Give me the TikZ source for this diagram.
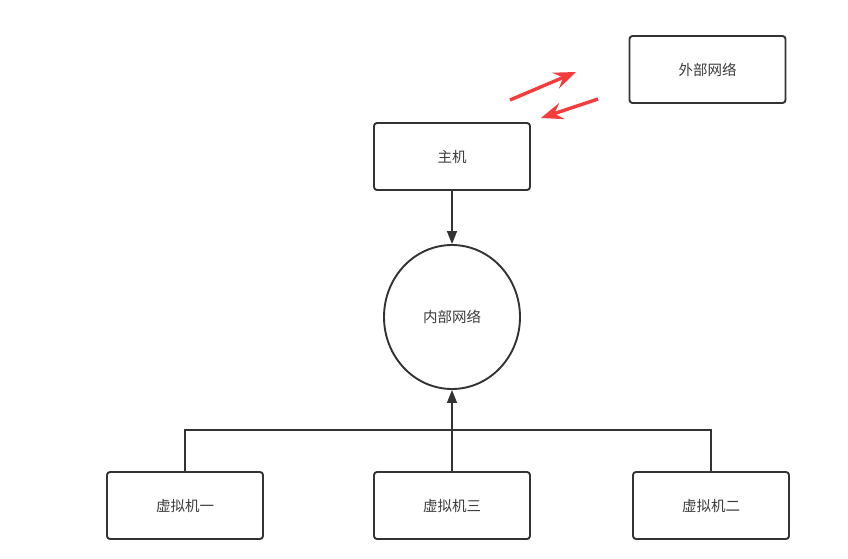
\documentclass[tikz,border=0pt]{standalone}
\usepackage{fontspec}
\setmainfont{Noto Sans CJK SC}
\usetikzlibrary{arrows.meta,shapes.geometric}
\definecolor{lineclr}{RGB}{51,51,51}
\definecolor{txtclr}{RGB}{60,60,60}
\definecolor{hintclr}{RGB}{245,60,60}

\begin{document}
\begin{tikzpicture}[x=1pt,y=-1pt,
    box/.style={rectangle, rounded corners=3pt, draw=lineclr, line width=1.9pt,
          fill=white, minimum width=156pt, minimum height=67pt,
          font=\fontsize{14.5pt}{17pt}\selectfont\color{txtclr}},
    link/.style={-{Triangle[length=13pt,width=10pt]}, line width=1.6pt, lineclr},
    hint/.style={-{Stealth[length=22pt,width=17pt,inset=8pt]}, line width=3.4pt, hintclr}]
    \useasboundingbox (0,0) rectangle (848,559);
    \node[box] (E) at (707.5,69.5) {外部网络};
    \node[box] (H) at (452,156.5) {主机};
    \node[ellipse, draw=lineclr, line width=1.9pt, minimum width=136pt,
          minimum height=144pt, inner sep=0pt,
          font=\fontsize{14.5pt}{17pt}\selectfont\color{txtclr}] (N) at (452,317) {内部网络};
    \node[box] (V1) at (185,505.5) {虚拟机一};
    \node[box] (V3) at (452,505.5) {虚拟机三};
    \node[box] (V2) at (711,505.5) {虚拟机二};
    % red hints between host and outside
    \coordinate (a1) at (510,100);
    \coordinate (a2) at (576,72);
    \coordinate (b1) at (598,99);
    \coordinate (b2) at (541,118);
    \draw[hint] (a1) -- (a2);
    \draw[hint] (b1) -- (b2);
    % host to network, vms to network
    \coordinate (bus) at (452,430);
    \draw[link] (H) -- (N);
    \draw[line width=1.6pt, lineclr] (V1.north) |- (bus) -| (V2.north);
    \draw[link] (V3) -- (N);
  \end{tikzpicture}
\end{document}
